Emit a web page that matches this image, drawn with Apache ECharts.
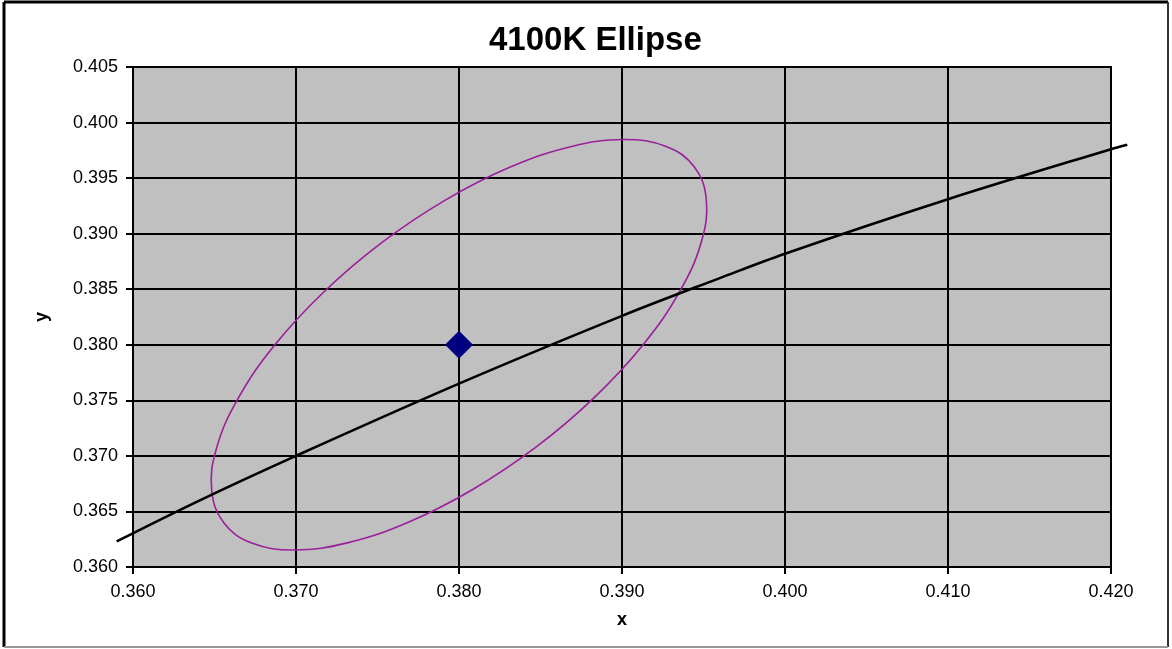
<!DOCTYPE html>
<html>
<head>
<meta charset="utf-8">
<style>
  html, body { margin: 0; padding: 0; background: #fff; }
  #chart { width: 1172px; height: 649px; }
</style>
<script src="https://cdn.jsdelivr.net/npm/echarts@6/dist/echarts.min.js"></script>
</head>
<body>
<div id="chart"></div>
<script>
// ---- Data ----
const titleText = '4100K Ellipse';
const xAxisName = 'x';
const yAxisName = 'y';

// Black-body (Planckian) locus; it runs a little past both plot edges
const locusX = [0.3590, 0.3641, 0.3700, 0.3800, 0.3900, 0.3960, 0.4000, 0.4100, 0.4200, 0.4210];
const locusY = [0.3623, 0.3660, 0.3700, 0.3765, 0.3826, 0.3860, 0.3882, 0.3931, 0.3976, 0.3980];

// Ellipse outline (points read around the drawn ellipse; the path is closed)
const ellipseX = [0.39443, 0.39271, 0.39013, 0.38685, 0.38311, 0.37916, 0.37526, 0.37169,
                  0.36868, 0.36645, 0.36513, 0.36483, 0.36557, 0.36729, 0.36987, 0.37315,
                  0.37689, 0.38084, 0.38474, 0.38831, 0.39132, 0.39355, 0.39487, 0.39517];
const ellipseY = [0.39602, 0.39785, 0.39847, 0.39783, 0.39597, 0.39302, 0.38919, 0.38473,
                  0.37995, 0.37517, 0.37072, 0.36691, 0.36398, 0.36215, 0.36153, 0.36217,
                  0.36403, 0.36698, 0.37081, 0.37527, 0.38005, 0.38483, 0.38928, 0.39310];

// Target / centre point
const centerX = [0.380];
const centerY = [0.380];

// Axis ranges
const xMin = 0.360, xMax = 0.420, xStep = 0.010;
const yMin = 0.360, yMax = 0.405, yStep = 0.005;

// ---- Build series data ----
const zip = (a, b) => a.map((v, i) => [v, b[i]]);

const chart = echarts.init(document.getElementById('chart'));
const FONT = 'Liberation Sans, Arial, sans-serif';
const labelFont = { fontFamily: FONT, fontSize: 18, color: '#000' };

// one smooth path through all points of a data set, positioned by the axis scales
function pathRenderer(xs, ys, closed, smooth, stroke, width) {
  return function (params, api) {
    if (params.dataIndex !== 0) return null;
    const pts = xs.map((x, i) => api.coord([x, ys[i]]));
    return {
      type: closed ? 'polygon' : 'polyline',
      shape: { points: pts, smooth: smooth },
      style: { stroke: stroke, lineWidth: width, fill: null }
    };
  };
}

chart.setOption({
  animation: false,
  backgroundColor: '#fff',
  title: {
    text: titleText,
    left: 484,
    top: 19,
    textStyle: { fontFamily: FONT, fontSize: 33, fontWeight: 'bold', color: '#000' }
  },
  grid: {
    left: 133, top: 67, width: 978, height: 500,
    show: true, backgroundColor: '#c0c0c0', borderColor: '#000', borderWidth: 2
  },
  xAxis: {
    type: 'value', min: xMin, max: xMax, interval: xStep,
    name: xAxisName, nameLocation: 'middle', nameGap: 44,
    nameTextStyle: { fontFamily: FONT, fontSize: 18, fontWeight: 'bold', color: '#000' },
    axisLine: { show: true, onZero: false, lineStyle: { color: '#000', width: 2 } },
    axisTick: { show: true, length: 7, lineStyle: { color: '#000', width: 2 } },
    axisLabel: Object.assign({ margin: 16, formatter: v => v.toFixed(3) }, labelFont),
    splitLine: { show: true, lineStyle: { color: '#000', width: 2 } }
  },
  yAxis: {
    type: 'value', min: yMin, max: yMax, interval: yStep,
    name: yAxisName, nameLocation: 'middle', nameGap: 82,
    nameTextStyle: { fontFamily: FONT, fontSize: 18, fontWeight: 'bold', color: '#000' },
    axisLine: { show: true, onZero: false, lineStyle: { color: '#000', width: 2 } },
    axisTick: { show: true, length: 7, lineStyle: { color: '#000', width: 2 } },
    axisLabel: Object.assign({ margin: 15, formatter: v => v.toFixed(3) }, labelFont),
    splitLine: { show: true, lineStyle: { color: '#000', width: 2 } }
  },
  series: [
    {
      name: 'ellipse', type: 'custom', data: zip(ellipseX, ellipseY), z: 2,
      renderItem: pathRenderer(ellipseX, ellipseY, true, 0.4, '#9b1f9b', 1.6)
    },
    {
      name: 'locus', type: 'custom', data: zip(locusX, locusY), z: 3, clip: false,
      renderItem: pathRenderer(locusX, locusY, false, 0.35, '#000', 2.6)
    },
    {
      name: 'center', type: 'scatter', data: zip(centerX, centerY),
      symbol: 'diamond', symbolSize: 28, z: 4,
      itemStyle: { color: '#000080', opacity: 1 }
    }
  ],
  graphic: [
    { type: 'line', shape: { x1: 4, y1: 2, x2: 1168, y2: 2 }, style: { stroke: '#000', lineWidth: 3 } },
    { type: 'line', shape: { x1: 4, y1: 2, x2: 4, y2: 647 }, style: { stroke: '#000', lineWidth: 3 } },
    { type: 'line', shape: { x1: 1168, y1: 2, x2: 1168, y2: 647 }, style: { stroke: '#333', lineWidth: 2 } },
    { type: 'line', shape: { x1: 4, y1: 647, x2: 1168, y2: 647 }, style: { stroke: '#999', lineWidth: 2 } }
  ]
});
</script>
</body>
</html>
